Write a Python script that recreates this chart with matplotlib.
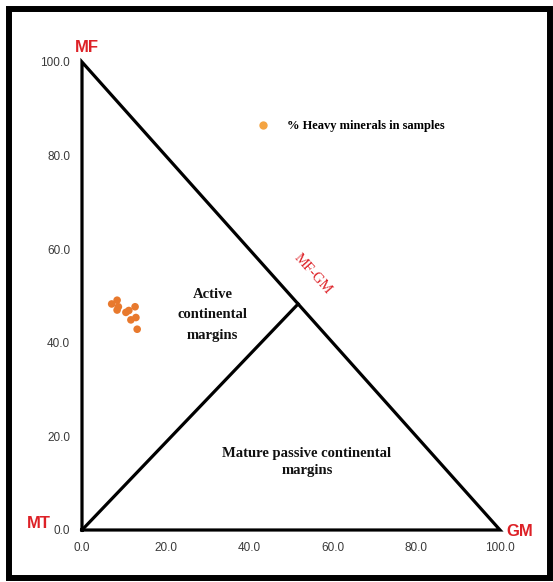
import matplotlib
matplotlib.use("Agg")
import matplotlib.pyplot as plt
from matplotlib.lines import Line2D
from matplotlib.patches import Rectangle

# Sample compositions (% heavy minerals): x = GM axis, y = MF axis
sample_x = [7.1, 8.4, 8.7, 8.4, 10.5, 11.2, 12.7, 11.7, 12.9, 13.2]
sample_y = [48.3, 49.1, 47.7, 47.0, 46.5, 46.9, 47.7, 44.9, 45.4, 42.9]

# Diagram vertices and the field boundary point on the MF-GM side
vertex_mf = (0, 100)
vertex_mt = (0, 0)
vertex_gm = (100, 0)
boundary_point = (51.7, 48.3)

tick_values = [0, 20, 40, 60, 80, 100]
tick_labels = [f"{v:.1f}" for v in tick_values]

W, H = 553, 582
fig = plt.figure(figsize=(W / 100, H / 100), dpi=100)
fig.patch.set_facecolor("white")

# axes placed in pixel terms: x 0..100 -> 82..500, y 0..100 -> 530..62
ax = fig.add_axes([82 / W, 52 / H, 418 / W, 468 / H])
ax.set_xlim(0, 100)
ax.set_ylim(0, 100)
for s in ax.spines.values():
    s.set_visible(False)

ax.set_xticks(tick_values)
ax.set_xticklabels(tick_labels)
ax.set_yticks(tick_values)
ax.set_yticklabels(tick_labels)
ax.tick_params(axis="both", length=0, labelsize=8.5, labelcolor="#3a3a3a")
ax.tick_params(axis="x", pad=8.5)
ax.tick_params(axis="y", pad=8.5)
for lbl in ax.get_xticklabels() + ax.get_yticklabels():
    lbl.set_family("Liberation Sans")

# triangle outline and field boundary
tri_x = [vertex_mt[0], vertex_mf[0], vertex_gm[0], vertex_mt[0]]
tri_y = [vertex_mt[1], vertex_mf[1], vertex_gm[1], vertex_mt[1]]
ax.plot(tri_x, tri_y, color="black", lw=2.3, clip_on=False,
        solid_joinstyle="miter", zorder=2)
ax.plot([vertex_mt[0], boundary_point[0]], [vertex_mt[1], boundary_point[1]],
        color="black", lw=2.3, clip_on=False, zorder=2)

# samples
ax.scatter(sample_x, sample_y, s=30, color="#E8792D", edgecolors="none",
           zorder=3, clip_on=False)

# vertex labels
red = "#DD2127"
corner_kw = dict(textcoords="offset pixels", color=red, fontweight="bold",
                 fontsize=12, family="Liberation Sans", ha="center", va="center")
ax.annotate("MF", xy=vertex_mf, xytext=(5, 14), **corner_kw)
ax.annotate("MT", xy=vertex_mt, xytext=(-43, 6), **corner_kw)
ax.annotate("GM", xy=vertex_gm, xytext=(20, -2), **corner_kw)

ax.text(55.3, 54.6, "MF-GM", rotation=-48, rotation_mode="anchor",
        ha="center", va="center", color=red, fontsize=10.5,
        family="Liberation Serif")

# field names
field_kw = dict(ha="center", va="center", fontsize=10.5, fontweight="bold",
                family="Liberation Serif", color="#111111")
ax.text(31.2, 46.0, "Active\ncontinental\nmargins", linespacing=1.75, **field_kw)
ax.text(53.8, 14.6, "Mature passive continental\nmargins", linespacing=1.4,
        **field_kw)

# legend
handle = Line2D([], [], marker="o", ls="", color="#F4A442", markersize=6,
                markeredgewidth=0)
leg = ax.legend([handle], ["% Heavy minerals in samples"],
                loc="center left",
                bbox_to_anchor=(256.75 / W, 1 - 126.5 / H),
                bbox_transform=fig.transFigure,
                frameon=False, borderpad=0, borderaxespad=0,
                handlelength=1.0, handletextpad=1.42,
                prop={"family": "Liberation Serif", "weight": "bold",
                      "size": 9})

# heavy outer frame
fig.add_artist(Rectangle((9 / W, 1 - 578 / H), 541 / W, 569 / H,
                         transform=fig.transFigure, fill=False,
                         edgecolor="black", lw=4.3, joinstyle="miter"))

fig.savefig("out.png", dpi=100)
